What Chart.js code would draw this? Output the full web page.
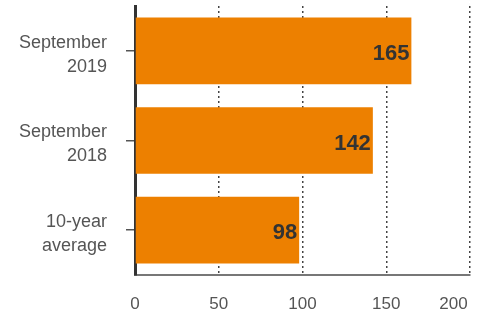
<!DOCTYPE html>
<html>
<head>
<meta charset="utf-8">
<script src="https://cdn.jsdelivr.net/npm/chart.js@4"></script>
<style>
  html, body { margin: 0; padding: 0; background: #fff; }
  #wrap { width: 482px; height: 316px; position: relative; }
</style>
</head>
<body>
<div id="wrap"><canvas id="chart"></canvas></div>
<script>
const categories = [['September', '2019'], ['September', '2018'], ['10-year', 'average']];
const values = [165, 142, 98];
const xTicks = [0, 50, 100, 150, 200];

const barColor = '#ED8000';
const font = '"Liberation Sans", Arial, sans-serif';

// draws the value at the end of each bar
const barValues = {
  id: 'barValues',
  afterDatasetsDraw(chart) {
    const ctx = chart.ctx;
    const meta = chart.getDatasetMeta(0);
    ctx.save();
    ctx.font = 'bold 22px ' + font;
    ctx.fillStyle = '#333';
    ctx.textAlign = 'right';
    ctx.textBaseline = 'middle';
    meta.data.forEach((bar, i) => {
      ctx.fillText(values[i], bar.x - 2, bar.y + 3);
    });
    ctx.restore();
  }
};

new Chart(document.getElementById('chart'), {
  type: 'bar',
  data: {
    labels: categories,
    datasets: [{
      data: values,
      backgroundColor: barColor,
      borderWidth: 0,
      barPercentage: 0.744,
      categoryPercentage: 1
    }]
  },
  options: {
    indexAxis: 'y',
    responsive: true,
    maintainAspectRatio: false,
    animation: false,
    layout: { padding: { top: 6, right: 12, left: 0, bottom: 0 } },
    plugins: {
      legend: { display: false },
      tooltip: { enabled: false }
    },
    scales: {
      x: {
        min: 0,
        max: 200,
        afterBuildTicks(scale) {
          scale.ticks = xTicks.map(v => ({ value: v }));
        },
        afterFit(scale) {
          scale.height = 41;
          scale.paddingLeft = 0;
          scale.paddingRight = 0;
        },
        border: { display: true, color: '#777', width: 2, dash: [2, 3] },
        grid: {
          color: '#444',
          lineWidth: 1.5,
          drawTicks: false
        },
        ticks: {
          padding: 19,
          color: '#555',
          font: { family: font, size: 17 },
          // last label sits pulled in from the edge, as in the source
          callback: (v, i, ticks) => i === ticks.length - 1 ? v + '       ' : v
        }
      },
      y: {
        afterFit(scale) {
          scale.width = 135;
          scale.paddingTop = 0;
          scale.paddingBottom = 0;
        },
        border: { display: true, color: '#333', width: 3 },
        grid: {
          offset: false,
          drawOnChartArea: false,
          drawTicks: true,
          tickLength: 9,
          tickColor: '#555',
          lineWidth: 1.5
        },
        ticks: {
          padding: 19,
          labelOffset: 4,
          color: '#555',
          font: { family: font, size: 18, lineHeight: 1.33 }
        }
      }
    }
  },
  plugins: [barValues]
});
</script>
</body>
</html>
